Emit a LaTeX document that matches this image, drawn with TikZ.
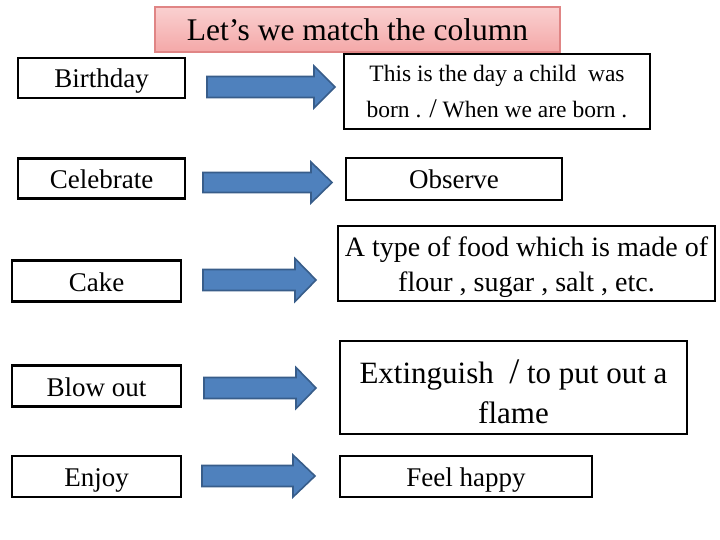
\documentclass[tikz,border=0pt]{standalone}
\usepackage{fontspec}
\setmainfont{Liberation Serif}
\definecolor{arrfill}{HTML}{4F81BD}
\definecolor{arrline}{HTML}{385D8A}
\definecolor{ttop}{HTML}{FAD0D0}
\definecolor{tbot}{HTML}{F4A8A8}
\definecolor{tline}{HTML}{E08585}
\begin{document}
\begin{tikzpicture}[x=1pt,y=-1pt,
  box/.style={draw=black,line width=2.6pt,fill=white,inner sep=0pt,anchor=center},
  lefttxt/.style={font=\fontsize{27}{32}\selectfont,text height=20pt,text depth=0pt},
  blockarrow/.style={fill=arrfill,draw=arrline,line width=1.6pt,line join=miter}]
\useasboundingbox (0,0) rectangle (720,540);
\fill[white] (0,0) rectangle (720,540);
% title
\node[draw=tline,line width=1.2pt,top color=ttop,bottom color=tbot,minimum width=405pt,minimum height=45pt,inner sep=0pt,
  text height=23pt,text depth=0pt,
  font=\fontsize{31.5}{36}\selectfont] (title) at (357.5,29.5) {Let’s we match the column};
% left column
\node[box,lefttxt,minimum width=167pt,minimum height=40pt] (l1) at (101.5,78) {Birthday};
\node[box,lefttxt,minimum width=167pt,minimum height=40pt] (l2) at (101.5,178.5) {Celebrate};
\node[box,lefttxt,minimum width=169pt,minimum height=41pt] (l3) at (96.5,281) {Cake};
\node[box,lefttxt,minimum width=169pt,minimum height=41pt] (l4) at (96.5,386) {Blow out};
\node[box,lefttxt,minimum width=169pt,minimum height=41pt] (l5) at (96.5,476.5) {Enjoy};
% right column
\node[box,minimum width=306pt,minimum height=75pt] (r1) at (497,91.5) {};
\node[align=center,font=\fontsize{23.5}{36}\selectfont,inner sep=0pt] (r1t) at (497,92)
  {This is the day a child\ \ was\\born . {\fontsize{27}{36}\selectfont/} When we are born .};
\node[box,lefttxt,minimum width=216pt,minimum height=42pt] (r2) at (454,179) {Observe};
\node[box,minimum width=377pt,minimum height=75pt] (r3) at (526.5,263.5) {};
\node[align=center,font=\fontsize{28}{35}\selectfont,inner sep=0pt] (r3t) at (526.5,267.5)
  {A type of food which is made of\\flour , sugar , salt , etc.};
\node[box,minimum width=347pt,minimum height=93pt] (r4) at (513.5,387.5) {};
\node[align=center,font=\fontsize{31}{40}\selectfont,inner sep=0pt] (r4t) at (513.5,392)
  {Extinguish\ \ {\fontsize{36}{40}\selectfont/} to put out a\\flame};
\node[box,lefttxt,minimum width=252pt,minimum height=41pt] (r5) at (466,476.5) {Feel happy};
% block arrows
\draw[blockarrow] (207,76.5) -- (314,76.5) -- (314,66) -- (335,87) -- (314,108) -- (314,97.5) -- (207,97.5) -- cycle;
\draw[blockarrow] (203,172.5) -- (311,172.5) -- (311,162) -- (332,182.5) -- (311,203) -- (311,192.5) -- (203,192.5) -- cycle;
\draw[blockarrow] (203,269.5) -- (295,269.5) -- (295,258.5) -- (316,280) -- (295,301.5) -- (295,290.5) -- (203,290.5) -- cycle;
\draw[blockarrow] (204,377.5) -- (296,377.5) -- (296,367.5) -- (316,388) -- (296,408.5) -- (296,398.5) -- (204,398.5) -- cycle;
\draw[blockarrow] (202,465.5) -- (293,465.5) -- (293,455) -- (315,476) -- (293,497) -- (293,486.5) -- (202,486.5) -- cycle;
\end{tikzpicture}
\end{document}
